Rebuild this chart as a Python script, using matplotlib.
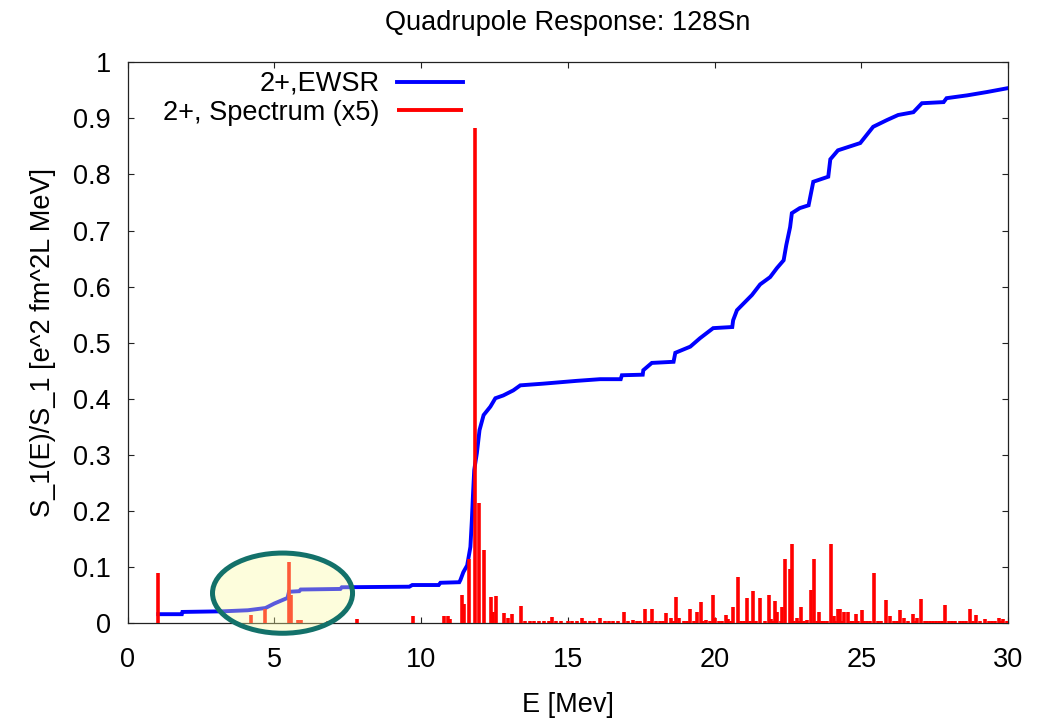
import matplotlib
matplotlib.use("Agg")
import matplotlib.pyplot as plt
from matplotlib.patches import Ellipse

plt.rcParams['font.family'] = ['Liberation Sans', 'DejaVu Sans']

# cumulative energy-weighted sum rule, S_1(E)/S_1
ewsr_E = [1.05, 1.85, 1.87, 3.1, 3.2, 4.1, 4.7, 5.0, 5.45, 5.5, 5.85, 5.9, 7.25, 7.3,
          9.6, 9.7, 10.6, 10.66, 11.3, 11.34, 11.44, 11.57, 11.68, 11.73, 11.77, 11.81,
          11.9, 11.99, 12.13, 12.36, 12.53, 12.8, 13.14, 13.38, 14.16, 15.3, 16.1, 16.8,
          16.84, 17.55, 17.57, 17.86, 18.6, 18.66, 19.17, 19.5, 19.95, 20.6, 20.63, 20.76,
          21.27, 21.55, 21.89, 22.12, 22.35, 22.44, 22.57, 22.63, 22.9, 23.2, 23.36, 23.87,
          23.94, 24.2, 24.96, 25.4, 25.87, 26.25, 26.77, 27.06, 27.8, 27.9, 28.6, 29.28, 30.0]
ewsr_S = [0.016, 0.016, 0.020, 0.021, 0.021, 0.023, 0.027, 0.035, 0.045, 0.056, 0.057, 0.060,
          0.061, 0.064, 0.065, 0.068, 0.068, 0.072, 0.073, 0.077, 0.091, 0.103, 0.136, 0.184,
          0.231, 0.273, 0.303, 0.344, 0.371, 0.386, 0.401, 0.406, 0.415, 0.424, 0.427, 0.432,
          0.435, 0.435, 0.442, 0.443, 0.451, 0.464, 0.466, 0.482, 0.493, 0.508, 0.526, 0.528,
          0.540, 0.558, 0.585, 0.604, 0.617, 0.633, 0.647, 0.674, 0.706, 0.731, 0.740, 0.745,
          0.787, 0.796, 0.827, 0.843, 0.856, 0.885, 0.897, 0.906, 0.911, 0.927, 0.929, 0.936,
          0.941, 0.947, 0.954]

# 2+ strength distribution (scaled x5)
spec_E = [1.05, 4.2, 4.7, 5.49, 5.57, 5.8, 5.9, 6.84, 7.83, 9.74,
          10.77, 10.9, 11.0, 11.4, 11.45, 11.64, 11.85, 11.96, 12.15, 12.38, 12.45, 12.56,
          12.81, 12.95, 13.1, 13.42, 14.46, 15.48, 16.1,
          16.92, 17.23, 17.64, 17.86, 18.35, 18.51, 18.68, 18.8, 19.17, 19.4, 19.53, 19.71,
          19.94, 20.02, 20.4, 20.47, 20.64, 20.79, 21.1, 21.29, 21.55, 21.84, 21.92, 22.06,
          22.14, 22.31, 22.41, 22.55, 22.65, 22.8, 22.95, 23.16, 23.29, 23.4, 23.56, 23.82,
          23.96, 24.05, 24.19, 24.28, 24.42, 24.54, 24.82, 25.01, 25.43, 25.83, 25.98, 26.32,
          26.46, 26.77, 26.91, 27.03, 27.34, 27.65, 27.86, 28.7, 28.91, 29.21, 29.33, 29.67,
          29.83]
spec_S = [0.089, 0.014, 0.025, 0.109, 0.050, 0.005, 0.005, 0.004, 0.007, 0.012,
          0.012, 0.012, 0.008, 0.050, 0.035, 0.114, 0.882, 0.214, 0.130, 0.046, 0.020, 0.048,
          0.018, 0.010, 0.016, 0.030, 0.011, 0.010, 0.009,
          0.020, 0.005, 0.026, 0.026, 0.018, 0.009, 0.047, 0.010, 0.025, 0.020, 0.038, 0.005,
          0.050, 0.010, 0.015, 0.008, 0.028, 0.083, 0.045, 0.057, 0.045, 0.050, 0.008, 0.040,
          0.020, 0.028, 0.114, 0.097, 0.142, 0.010, 0.028, 0.006, 0.059, 0.115, 0.020, 0.004,
          0.142, 0.012, 0.025, 0.026, 0.020, 0.020, 0.017, 0.024, 0.090, 0.041, 0.013, 0.024,
          0.010, 0.016, 0.010, 0.043, 0.004, 0.004, 0.033, 0.025, 0.014, 0.008, 0.004, 0.009,
          0.008]

# many very weak states above 13 MeV
weak_E = [13.55, 13.7, 13.85, 14.0, 14.2, 14.35, 14.6, 14.75, 15.0, 15.15, 15.3, 15.6,
          15.75, 15.9, 16.25, 16.4, 16.55, 16.7, 17.05, 17.35, 17.45, 17.75, 18.0, 18.15,
          18.25, 18.6, 18.95, 19.05, 19.3, 19.6, 19.85, 20.15, 20.25, 20.55, 20.9, 21.0,
          21.2, 21.4, 21.7, 22.0, 22.25, 22.72, 22.88, 23.05, 23.5, 23.65, 23.72, 24.1,
          24.35, 24.65, 24.72, 24.9, 25.1, 25.2, 25.3, 25.55, 25.65, 26.1, 26.2, 26.6,
          26.85, 27.15, 27.25, 27.45, 27.55, 27.75, 28.0, 28.1, 28.2, 28.35, 28.45, 28.55,
          28.8, 29.05, 29.45, 29.55, 29.75, 29.95]
weak_S = [0.003] * len(weak_E)

x_ticks = [0, 5, 10, 15, 20, 25, 30]
y_ticks = [0, 0.1, 0.2, 0.3, 0.4, 0.5, 0.6, 0.7, 0.8, 0.9, 1.0]
y_tick_labels = ["0", "0.1", "0.2", "0.3", "0.4", "0.5", "0.6", "0.7", "0.8", "0.9", "1"]

FS = 19.5

fig = plt.figure(figsize=(10.41, 7.2), dpi=100)
ax = fig.add_axes([0.1225, 0.1345, 0.846, 0.779])

ax.plot(ewsr_E, ewsr_S, color='#0000ff', lw=2.8, zorder=3, label='2+,EWSR',
        solid_joinstyle='miter')
ax.vlines(spec_E, 0, spec_S, colors='#ff0000', lw=2.6, zorder=4,
          label='2+, Spectrum (x5)')
ax.vlines(weak_E, 0, weak_S, colors='#ff0000', lw=2.6, zorder=4)

# highlight of the low-lying states
hl = Ellipse((5.28, 0.0535), 4.77, 0.143, facecolor=(250/255, 250/255, 158/255, 0.36),
             edgecolor='#13716a', lw=3.6, zorder=6, clip_on=False)
ax.add_patch(hl)

ax.set_xlim(0, 30)
ax.set_ylim(0, 1)
ax.set_xticks(x_ticks)
ax.set_yticks(y_ticks)
ax.set_yticklabels(y_tick_labels)
ax.tick_params(direction='in', length=4.5, width=0.8, top=True, right=True,
               labelsize=FS, colors='#222222', labelcolor='black')
ax.tick_params(axis='y', pad=12)
ax.tick_params(axis='x', pad=17)
for s in ax.spines.values():
    s.set_linewidth(0.9)
    s.set_color('#222222')

ax.set_title("Quadrupole Response: 128Sn", fontsize=FS, pad=23)
ax.set_xlabel("E [Mev]", fontsize=FS, labelpad=14)
ax.set_ylabel("S_1(E)/S_1 [e^2 fm^2L MeV]", fontsize=FS, labelpad=12)

leg = fig.legend(*ax.get_legend_handles_labels(), loc='upper right',
                 bbox_to_anchor=(463 / 1041, 1 - 71 / 720), frameon=False,
                 markerfirst=False, fontsize=FS, handlelength=2.45,
                 handletextpad=0.62, labelspacing=0.1, borderaxespad=0.0,
                 borderpad=0.0)
for h in leg.legend_handles:
    h.set_linewidth(2.8)

fig.savefig("out.png", dpi=100)
